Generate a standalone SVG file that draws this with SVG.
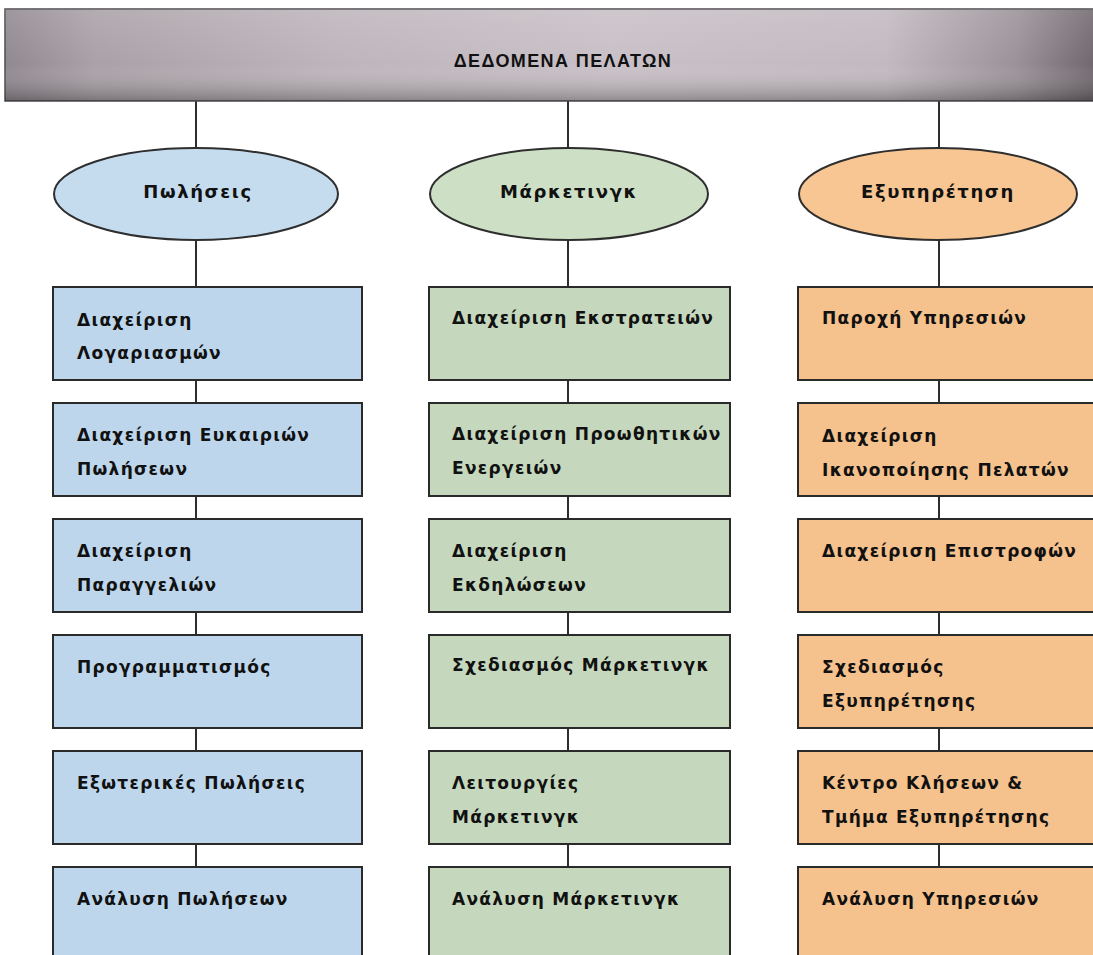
<svg xmlns="http://www.w3.org/2000/svg" width="1093" height="955" viewBox="0 0 1093 955">
<defs>
<linearGradient id="barH" x1="0" y1="0" x2="1" y2="0">
<stop offset="0" stop-color="#918990"/>
<stop offset="0.08" stop-color="#a9a1a7"/>
<stop offset="0.3" stop-color="#bdb5bb"/>
<stop offset="0.55" stop-color="#c8c0c6"/>
<stop offset="0.8" stop-color="#c2bac0"/>
<stop offset="0.92" stop-color="#9a9298"/>
<stop offset="1" stop-color="#6a6268"/>
</linearGradient>
<linearGradient id="barV" x1="0" y1="0" x2="0" y2="1">
<stop offset="0" stop-color="#ffffff" stop-opacity="0.12"/>
<stop offset="0.6" stop-color="#ffffff" stop-opacity="0"/>
<stop offset="1" stop-color="#000000" stop-opacity="0.28"/>
</linearGradient>
</defs>
<style>
.conn line{stroke:#2e2e2e;stroke-width:2}
.box{stroke:#2a2a2a;stroke-width:2}
.ell{stroke:#2e2e2e;stroke-width:2}
.blue{fill:#bdd6ec}
.green{fill:#c5d8bd}
.orange{fill:#f5c18d}
.eblue{fill:#c5dcef}
.egreen{fill:#cde0c5}
.eorange{fill:#f8c692}
.t{font-family:"DejaVu Sans",Verdana,sans-serif;font-weight:bold;font-size:17px;letter-spacing:1.3px;fill:#111111}
.et{font-family:"DejaVu Sans",Verdana,sans-serif;font-weight:bold;font-size:18px;letter-spacing:1.6px;fill:#111111;text-anchor:middle}
.title{font-family:"Liberation Sans",Arial,sans-serif;font-weight:bold;font-size:18px;letter-spacing:1.4px;fill:#111111;text-anchor:middle}
</style>
<rect width="1093" height="955" fill="#ffffff"/>
<g class="conn">
<line x1="196" y1="100" x2="196" y2="148"/>
<line x1="568" y1="100" x2="568" y2="148"/>
<line x1="939" y1="100" x2="939" y2="148"/>
<line x1="196" y1="240" x2="196" y2="287"/>
<line x1="568" y1="240" x2="568" y2="287"/>
<line x1="939" y1="240" x2="939" y2="287"/>
<line x1="196" y1="380" x2="196" y2="403"/>
<line x1="196" y1="496" x2="196" y2="519"/>
<line x1="196" y1="612" x2="196" y2="635"/>
<line x1="196" y1="728" x2="196" y2="751"/>
<line x1="196" y1="844" x2="196" y2="867"/>
<line x1="568" y1="380" x2="568" y2="403"/>
<line x1="568" y1="496" x2="568" y2="519"/>
<line x1="568" y1="612" x2="568" y2="635"/>
<line x1="568" y1="728" x2="568" y2="751"/>
<line x1="568" y1="844" x2="568" y2="867"/>
<line x1="939" y1="380" x2="939" y2="403"/>
<line x1="939" y1="496" x2="939" y2="519"/>
<line x1="939" y1="612" x2="939" y2="635"/>
<line x1="939" y1="728" x2="939" y2="751"/>
<line x1="939" y1="844" x2="939" y2="867"/>
</g>
<g id="header">
<rect x="5" y="9" width="1100" height="92" fill="url(#barH)" stroke="#4e4a4d" stroke-width="1.5"/>
<rect x="5" y="9" width="1100" height="92" fill="url(#barV)"/>
<text class="title" x="563" y="67">ΔΕΔΟΜΕΝΑ ΠΕΛΑΤΩΝ</text>
</g>
<g id="sales">
<ellipse class="ell eblue" cx="196" cy="194" rx="142" ry="46"/>
<text class="et" x="198" y="198">Πωλήσεις</text>
</g>
<g id="marketing">
<ellipse class="ell egreen" cx="569" cy="194" rx="139" ry="46"/>
<text class="et" x="569" y="198">Μάρκετινγκ</text>
</g>
<g id="service">
<ellipse class="ell eorange" cx="938" cy="194" rx="139" ry="46"/>
<text class="et" x="938" y="198">Εξυπηρέτηση</text>
</g>
<g id="s1"><rect class="box blue" x="53" y="287" width="309" height="93"/><text class="t" x="77" y="326">Διαχείριση</text><text class="t" x="77" y="359">Λογαριασμών</text></g>
<g id="s2"><rect class="box blue" x="53" y="403" width="309" height="93"/><text class="t" x="77" y="441">Διαχείριση Ευκαιριών</text><text class="t" x="77" y="475">Πωλήσεων</text></g>
<g id="s3"><rect class="box blue" x="53" y="519" width="309" height="93"/><text class="t" x="77" y="557">Διαχείριση</text><text class="t" x="77" y="591">Παραγγελιών</text></g>
<g id="s4"><rect class="box blue" x="53" y="635" width="309" height="93"/><text class="t" x="77" y="673">Προγραμματισμός</text></g>
<g id="s5"><rect class="box blue" x="53" y="751" width="309" height="93"/><text class="t" x="77" y="789">Εξωτερικές Πωλήσεις</text></g>
<g id="s6"><rect class="box blue" x="53" y="867" width="309" height="100"/><text class="t" x="77" y="905">Ανάλυση Πωλήσεων</text></g>
<g id="m1"><rect class="box green" x="429" y="287" width="301" height="93"/><text class="t" x="452" y="324">Διαχείριση Εκστρατειών</text></g>
<g id="m2"><rect class="box green" x="429" y="403" width="301" height="93"/><text class="t" x="452" y="440">Διαχείριση Προωθητικών</text><text class="t" x="452" y="474">Ενεργειών</text></g>
<g id="m3"><rect class="box green" x="429" y="519" width="301" height="93"/><text class="t" x="452" y="557">Διαχείριση</text><text class="t" x="452" y="591">Εκδηλώσεων</text></g>
<g id="m4"><rect class="box green" x="429" y="635" width="301" height="93"/><text class="t" x="452" y="671">Σχεδιασμός Μάρκετινγκ</text></g>
<g id="m5"><rect class="box green" x="429" y="751" width="301" height="93"/><text class="t" x="452" y="789">Λειτουργίες</text><text class="t" x="452" y="823">Μάρκετινγκ</text></g>
<g id="m6"><rect class="box green" x="429" y="867" width="301" height="100"/><text class="t" x="452" y="905">Ανάλυση Μάρκετινγκ</text></g>
<g id="c1"><rect class="box orange" x="798" y="287" width="310" height="93"/><text class="t" x="822" y="324">Παροχή Υπηρεσιών</text></g>
<g id="c2"><rect class="box orange" x="798" y="403" width="310" height="93"/><text class="t" x="822" y="442">Διαχείριση</text><text class="t" x="822" y="476">Ικανοποίησης Πελατών</text></g>
<g id="c3"><rect class="box orange" x="798" y="519" width="310" height="93"/><text class="t" x="822" y="557">Διαχείριση Επιστροφών</text></g>
<g id="c4"><rect class="box orange" x="798" y="635" width="310" height="93"/><text class="t" x="822" y="673">Σχεδιασμός</text><text class="t" x="822" y="707">Εξυπηρέτησης</text></g>
<g id="c5"><rect class="box orange" x="798" y="751" width="310" height="93"/><text class="t" x="822" y="789">Κέντρο Κλήσεων &amp;</text><text class="t" x="822" y="823">Τμήμα Εξυπηρέτησης</text></g>
<g id="c6"><rect class="box orange" x="798" y="867" width="310" height="100"/><text class="t" x="822" y="905">Ανάλυση Υπηρεσιών</text></g>
</svg>
